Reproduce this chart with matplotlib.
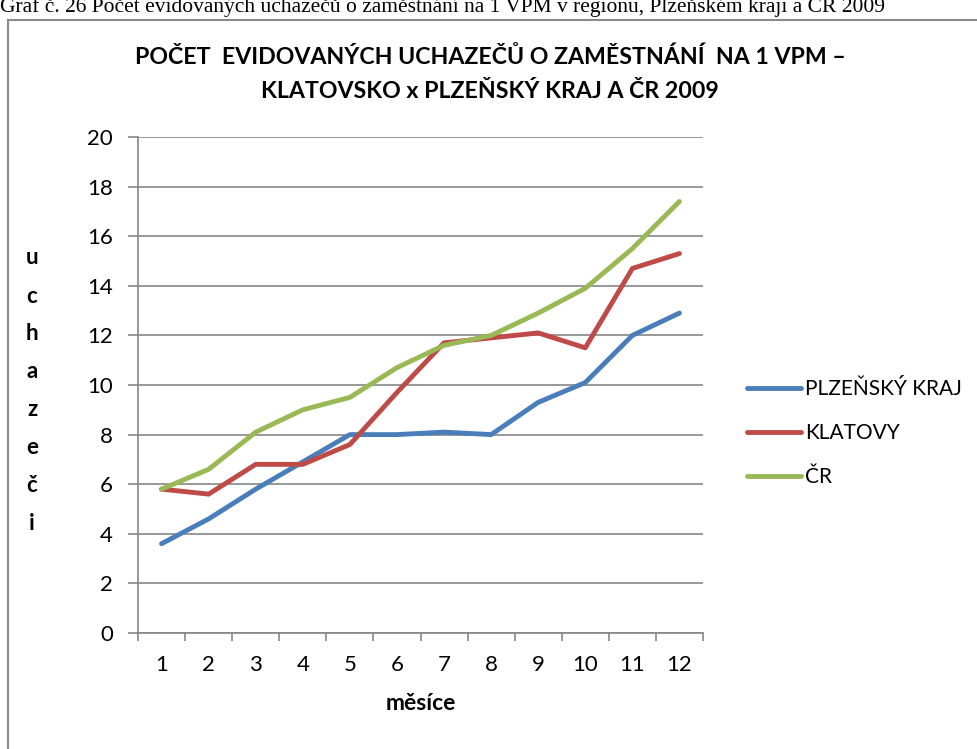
import matplotlib.pyplot as plt
from matplotlib.lines import Line2D

# data
months = [1, 2, 3, 4, 5, 6, 7, 8, 9, 10, 11, 12]
plzensky_kraj = [3.6, 4.6, 5.8, 6.9, 8.0, 8.0, 8.1, 8.0, 9.3, 10.1, 12.0, 12.9]
klatovy = [5.8, 5.6, 6.8, 6.8, 7.6, 9.7, 11.7, 11.9, 12.1, 11.5, 14.7, 15.3]
cr = [5.8, 6.6, 8.1, 9.0, 9.5, 10.7, 11.6, 12.0, 12.9, 13.9, 15.5, 17.4]
y_ticks = list(range(0, 21, 2))

series = [("PLZEŇSKÝ KRAJ", plzensky_kraj, "#4a7ebb"),
          ("KLATOVY", klatovy, "#be4b48"),
          ("ČR", cr, "#98b954")]

plt.rcParams['font.family'] = ['Lato', 'DejaVu Sans']
grid_col = "#868686"

fig = plt.figure(figsize=(9.77, 7.49), dpi=100)

# caption above the chart (cut off at top in the original)
fig.text(0.0, 1.0 - 5 / 749, "Graf č. 26 Počet evidovaných uchazečů o zaměstnání na 1 VPM v regionu, Plzeňském kraji a ČR 2009",
         family=['Liberation Serif', 'DejaVu Serif'], fontsize=15.5, va='center', ha='left')

# chart frame (left and top edges visible)
fig.add_artist(Line2D([7.5 / 977, 7.5 / 977], [0, 1 - 20 / 749], transform=fig.transFigure,
                      color="#8a8a8a", lw=1.5))
fig.add_artist(Line2D([7.5 / 977, 1], [1 - 20 / 749, 1 - 20 / 749], transform=fig.transFigure,
                      color="#8a8a8a", lw=1.5))

fig.text(490 / 977, 1 - 74 / 749, "POČET  EVIDOVANÝCH UCHAZEČŮ O ZAMĚSTNÁNÍ  NA 1 VPM –\nKLATOVSKO x PLZEŇSKÝ KRAJ A ČR 2009",
         ha='center', va='center', fontsize=16.7, fontweight='bold', linespacing=1.75)

ax = fig.add_axes([138 / 977, 1 - 633 / 749, (703 - 138) / 977, (633 - 137) / 749])

for name, vals, col in series:
    ax.plot(months, vals, color=col, lw=3.5, label=name, solid_capstyle='round')

ax.set_xlim(0.5, 12.5)
ax.set_ylim(0, 20)
ax.set_yticks(y_ticks)
ax.yaxis.grid(True, color=grid_col, lw=1.2)
ax.set_axisbelow(True)
ax.set_xticks(months)
ax.set_xticks([m + 0.5 for m in [0] + months], minor=True)
ax.tick_params(axis='x', which='major', length=0, labelsize=16, pad=16)
ax.tick_params(axis='x', which='minor', length=6, color=grid_col, width=1.2)
ax.tick_params(axis='y', length=7, color=grid_col, width=1.2, labelsize=16, pad=11)
for s in ['top', 'right']:
    ax.spines[s].set_visible(False)
for s in ['left', 'bottom']:
    ax.spines[s].set_color(grid_col)
    ax.spines[s].set_linewidth(1.2)

ax.set_xlabel("měsíce", fontsize=16.5, fontweight='bold', labelpad=13)

# stacked y label letters
for i, ch in enumerate("uchazeči"):
    fig.text(32 / 977, 1 - (258 + i * 38) / 749, ch, ha='center', va='center',
             fontsize=16, fontweight='bold')

handles = [Line2D([0], [0], color=c, lw=3.5, solid_capstyle='round') for _, _, c in series]
fig.legend(handles, [n for n, _, _ in series], loc='center left',
           bbox_to_anchor=(728 / 977, 1 - 433 / 749), frameon=False, fontsize=15,
           handlelength=2.6, handletextpad=0.2, labelspacing=1.15)

fig.savefig("out.png", dpi=100)
